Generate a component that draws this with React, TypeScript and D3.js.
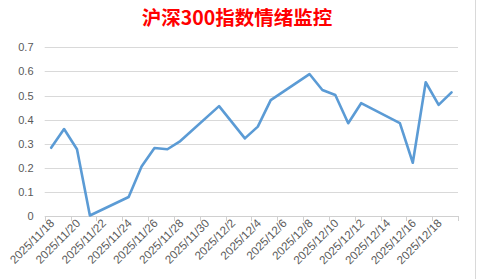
import React from "react";
import * as d3 from "d3";

const title = "沪深300指数情绪监控";
const dates = [
  "2025/11/18", "2025/11/19", "2025/11/20", "2025/11/21", "2025/11/24",
  "2025/11/25", "2025/11/26", "2025/11/27", "2025/11/28", "2025/12/1",
  "2025/12/3", "2025/12/4", "2025/12/5", "2025/12/8", "2025/12/9",
  "2025/12/10", "2025/12/11", "2025/12/12", "2025/12/15", "2025/12/16",
  "2025/12/17", "2025/12/18", "2025/12/19",
];
const values = [
  0.283, 0.361, 0.277, 0.002, 0.079,
  0.205, 0.282, 0.277, 0.311, 0.456,
  0.322, 0.371, 0.481, 0.589, 0.523,
  0.502, 0.385, 0.468, 0.385, 0.221,
  0.555, 0.461, 0.513,
];
const tickLabels = [
  "2025/11/18", "2025/11/20", "2025/11/22", "2025/11/24", "2025/11/26",
  "2025/11/28", "2025/11/30", "2025/12/2", "2025/12/4", "2025/12/6",
  "2025/12/8", "2025/12/10", "2025/12/12", "2025/12/14", "2025/12/16",
  "2025/12/18",
];
const yTicks = [0, 0.1, 0.2, 0.3, 0.4, 0.5, 0.6, 0.7];

const W = 477;
const H = 279;
const parse = d3.timeParse("%Y/%m/%d");

export default function App() {
  const start = parse(tickLabels[0]) as Date;
  const totalDays = 32;
  const x = d3.scaleLinear().domain([0, totalDays]).range([44.7, 458]);
  const y = d3.scaleLinear().domain([0, 0.7]).range([216, 47.3]);
  const dayIdx = (s: string) => d3.timeDay.count(start, parse(s) as Date);
  const pts: [number, number][] = dates.map((d, i) => [x(dayIdx(d) + 0.5), y(values[i])]);
  const line = d3.line().curve(d3.curveLinear)(pts) || "";
  const ticks = d3.range(0, totalDays + 1, 2);
  const font = "'Liberation Sans', Arial, sans-serif";
  return (
    <svg width={W} height={H} style={{ position: "absolute", left: 0, top: 0, background: "#fff" }}>
      <rect x={0} y={0} width={W} height={H} fill="#fff" />
      <text x={237} y={25} textAnchor="middle" fill="#ff0000" fontWeight="bold" fontSize={19.5}
        fontFamily="'Noto Sans CJK SC', sans-serif">{title}</text>
      {yTicks.map((t) => (
        <g key={t}>
          <line x1={x(0)} x2={x(totalDays)} y1={Math.round(y(t)) + 0.5} y2={Math.round(y(t)) + 0.5}
            stroke={t === 0 ? "#d0d0d0" : "#d9d9d9"} strokeWidth={1} />
          <text x={33.5} y={y(t) + 4} textAnchor="end" fontSize={11} fill="#595959" fontFamily={font}>
            {d3.format("")(t)}
          </text>
        </g>
      ))}
      {ticks.map((k) => (
        <line key={k} x1={Math.round(x(k)) + 0.5} x2={Math.round(x(k)) + 0.5} y1={216} y2={221}
          stroke="#d0d0d0" strokeWidth={1} />
      ))}
      {tickLabels.map((lab, i) => {
        const cx = x(i * 2 + 0.5) + 4;
        const cy = 224;
        return (
          <text key={lab} x={cx} y={cy} textAnchor="end" fontSize={11.6} fill="#595959" fontFamily={font}
            transform={`rotate(-45 ${cx} ${cy})`}>{lab}</text>
        );
      })}
      <path d={line} fill="none" stroke="#5b9bd5" strokeWidth={2.6} strokeLinejoin="round" strokeLinecap="round" />
      <line x1={475.5} x2={475.5} y1={0} y2={H} stroke="#d9d9d9" strokeWidth={1} />
    </svg>
  );
}
